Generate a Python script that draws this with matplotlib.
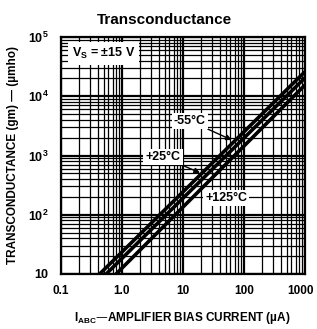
import matplotlib
matplotlib.use("Agg")
import matplotlib.pyplot as plt
import matplotlib.transforms as mtransforms
import numpy as np
from matplotlib.ticker import FixedLocator, LogLocator, NullFormatter

plt.rcParams['font.family'] = ['Liberation Sans Narrow', 'Liberation Sans', 'DejaVu Sans']
plt.rcParams['font.weight'] = 'bold'
plt.rcParams['mathtext.default'] = 'regular'

# bias current (uA) and transconductance (umho) end points of each curve
iabc_m55 = [0.43, 1000]
gm_m55 = [10, 26000]
iabc_25 = [0.55, 1000]
gm_25 = [10, 20500]
iabc_125 = [0.8, 1000]
gm_125 = [10, 15500]

xTicks = [0.1, 1, 10, 100, 1000]
xTickLabels = ["0.1", "1.0", "10", "100", "1000"]
yTicks = [10, 100, 1000, 10000, 100000]
yTickLabels = ["10", "$10^2$", "$10^3$", "$10^4$", "$10^5$"]

fig = plt.figure(figsize=(3.17, 3.29), dpi=100)
ax = fig.add_axes([61 / 317, 1 - 274 / 329, 244 / 317, 237 / 329])

for xs, ys in [(iabc_m55, gm_m55), (iabc_25, gm_25), (iabc_125, gm_125)]:
    ax.plot(xs, ys, "k-", lw=2.6, solid_capstyle="butt", zorder=3)

ax.set_xscale("log")
ax.set_yscale("log")
ax.set_xlim(0.1, 1000)
ax.set_ylim(10, 100000)

ax.xaxis.set_major_locator(FixedLocator(xTicks))
ax.set_xticklabels(xTickLabels, fontsize=8.5, fontweight="bold")
ax.yaxis.set_major_locator(FixedLocator(yTicks))
ax.set_yticklabels(yTickLabels, fontsize=9, fontweight="bold")
ax.xaxis.set_minor_locator(LogLocator(base=10, subs=np.arange(2, 10)))
ax.yaxis.set_minor_locator(LogLocator(base=10, subs=np.arange(2, 10)))
ax.xaxis.set_minor_formatter(NullFormatter())
ax.yaxis.set_minor_formatter(NullFormatter())
ax.tick_params(which="both", length=0)
ax.tick_params(axis="x", pad=8)
ax.tick_params(axis="y", pad=9)

# nudge the last x label so it stays inside the figure
lastLabel = ax.xaxis.get_major_ticks()[-1].label1
lastLabel.set_transform(lastLabel.get_transform() +
                        mtransforms.ScaledTranslation(-3 / 72, 0, fig.dpi_scale_trans))

ax.grid(True, which="major", color="black", lw=1.6)
ax.grid(True, which="minor", color="black", lw=0.9)
for sp in ax.spines.values():
    sp.set_linewidth(1.6)

# labels
ax.text(0.15, 53000, "V$_S$ = ±15 V", fontsize=9, fontweight="bold", va="center",
        bbox=dict(facecolor="white", edgecolor="none", pad=3), zorder=4)

arrow = dict(arrowstyle="-|>", color="black", lw=1, mutation_scale=8, shrinkA=0, shrinkB=0)
ax.annotate("-55°C", xy=(63, 1830), xytext=(13, 3820), fontsize=9, fontweight="bold",
            ha="center", va="center", zorder=5,
            bbox=dict(facecolor="white", edgecolor="none", pad=1.5), arrowprops=arrow)
ax.annotate("+25°C", xy=(19, 510), xytext=(4.7, 945), fontsize=9, fontweight="bold",
            ha="center", va="center", zorder=5,
            bbox=dict(facecolor="white", edgecolor="none", pad=1.5), arrowprops=arrow)
ax.text(51, 192, "+125°C", fontsize=9, fontweight="bold", ha="center", va="center", zorder=5,
        bbox=dict(facecolor="white", edgecolor="none", pad=1.5))

fig.text(164 / 317, 1 - 20 / 329, "Transconductance", fontsize=11, fontweight="bold",
         ha="center", va="center", family=["Liberation Sans", "DejaVu Sans"])
fig.text(182 / 317, 1 - 318 / 329, "I$_{ABC}$—AMPLIFIER BIAS CURRENT (µA)", fontsize=8.5,
         fontweight="bold", ha="center", va="center")
fig.text(13 / 317, 1 - 155 / 329, "TRANSCONDUCTANCE (gm) — (µmho)", fontsize=8.5,
         fontweight="bold", ha="center", va="center", rotation=90)

fig.savefig("out.png", dpi=100)
